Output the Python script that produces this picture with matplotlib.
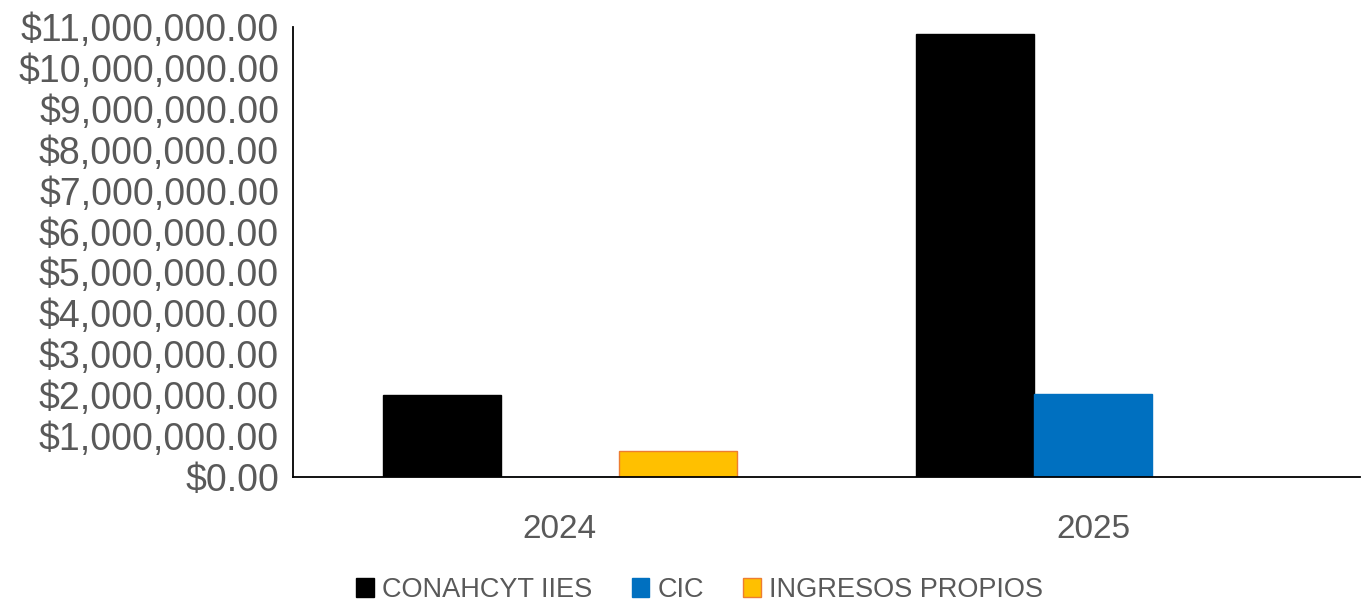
import numpy as np
import matplotlib.pyplot as plt
from matplotlib.ticker import FuncFormatter

# datos
years = ['2024', '2025']
conahcyt = [2000000, 10830000]
cic = [0, 2020000]
ingresos = [643000, 0]

series = ['CONAHCYT IIES', 'CIC', 'INGRESOS PROPIOS']
colors = ['#000000', '#0070C0', '#FFC000']
edges = ['#000000', '#0070C0', '#ED7D31']

plt.rcParams['font.family'] = ['Liberation Sans', 'DejaVu Sans']

fig = plt.figure(figsize=(13.61, 6.05), dpi=100)
ax = fig.add_axes([293 / 1361, 1 - 477 / 605, (1360 - 293) / 1361, (477 - 27) / 605])

x = np.arange(len(years))
w = 0.221
for i, vals in enumerate([conahcyt, cic, ingresos]):
    ax.bar(x + (i - 1) * w, vals, w, color=colors[i], edgecolor=edges[i],
           linewidth=1, label=series[i])

ax.set_xlim(-0.5, 1.5)
ax.set_ylim(0, 11000000)
ax.set_yticks(np.arange(0, 11000001, 1000000))
ax.yaxis.set_major_formatter(FuncFormatter(lambda v, p: '${:,.2f}'.format(v)))
ax.set_xticks(x)
ax.set_xticklabels(years)

for s in ['top', 'right']:
    ax.spines[s].set_visible(False)
ax.spines['left'].set_linewidth(1.3)
ax.spines['bottom'].set_linewidth(1.3)
ax.tick_params(axis='both', length=0, colors='#595959')
ax.tick_params(axis='y', labelsize=27, pad=10)
ax.tick_params(axis='x', labelsize=24, pad=27)

leg = fig.legend(loc='center', bbox_to_anchor=(0.514, 1 - 590 / 605), ncol=3,
                 frameon=False, fontsize=19.5, handlelength=0.65, handleheight=0.65,
                 columnspacing=1.45, handletextpad=0.3)
for t in leg.get_texts():
    t.set_color('#595959')

fig.savefig('out.png', dpi=100)
